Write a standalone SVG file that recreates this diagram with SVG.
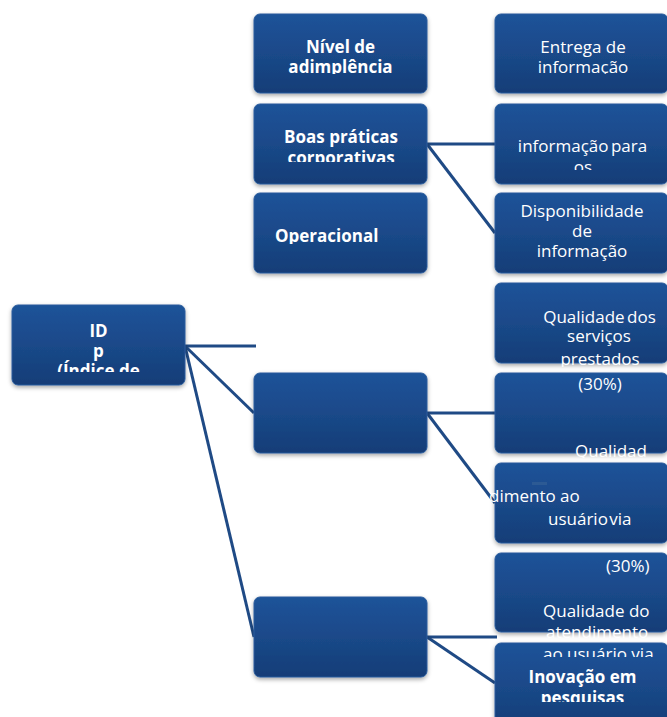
<svg xmlns="http://www.w3.org/2000/svg" width="667" height="717" viewBox="0 0 667 717">
<style>
.box{fill:url(#g);stroke:#2a5b9c;stroke-width:1;filter:url(#sh)}
.t{font-family:"Open Sans","Liberation Sans",sans-serif;font-size:17px;fill:#ffffff}
.b{font-weight:bold}
.c{text-anchor:middle}
.ln{stroke:#1f4a85;stroke-width:3;fill:none}
</style>
<defs>
<linearGradient id="g" x1="0" y1="0" x2="0" y2="1">
<stop offset="0" stop-color="#1f5399"/>
<stop offset="0.5" stop-color="#1a4989"/>
<stop offset="1" stop-color="#143d77"/>
</linearGradient>
<filter id="sh" x="-10%" y="-10%" width="120%" height="130%">
<feDropShadow dx="0" dy="2" stdDeviation="2" flood-color="#000" flood-opacity="0.35"/>
</filter>
<clipPath id="c1"><rect x="0" y="0" width="667" height="74"/></clipPath>
<clipPath id="c2"><rect x="0" y="0" width="667" height="162"/></clipPath>
<clipPath id="c3"><rect x="0" y="0" width="667" height="244"/></clipPath>
<clipPath id="c4"><rect x="0" y="0" width="667" height="372"/></clipPath>
<clipPath id="c5"><rect x="0" y="0" width="667" height="170"/></clipPath>
<clipPath id="c6"><rect x="0" y="0" width="667" height="367"/></clipPath>
<clipPath id="c7"><rect x="0" y="0" width="667" height="458"/></clipPath>
<clipPath id="c8"><rect x="0" y="0" width="667" height="638"/></clipPath>
<clipPath id="c9"><rect x="0" y="643" width="667" height="14"/></clipPath>
<clipPath id="c10"><rect x="0" y="0" width="667" height="702"/></clipPath>
</defs>
<g id="connectors">
<line class="ln" x1="185" y1="346" x2="256" y2="346"/>
<line class="ln" x1="185" y1="346" x2="254" y2="413"/>
<line class="ln" x1="185" y1="346" x2="254" y2="637"/>
<line class="ln" x1="427" y1="144" x2="495" y2="144"/>
<line class="ln" x1="427" y1="144" x2="495" y2="233"/>
<line class="ln" x1="427" y1="413" x2="495" y2="413"/>
<line class="ln" x1="427" y1="413" x2="495" y2="503"/>
<line class="ln" x1="427" y1="637" x2="497" y2="637"/>
<line class="ln" x1="427" y1="637" x2="495" y2="683"/>
</g>
<g id="n_id">
<rect class="box" x="12" y="305" width="173" height="80" rx="6"/>
<g clip-path="url(#c4)">
<text class="t b c" x="98.5" y="337">ID</text>
<text class="t b c" x="98.5" y="357">p</text>
<text class="t b c" x="98.5" y="377">(Índice de</text>
</g>
</g>
<g id="n_nivel">
<rect class="box" x="254" y="14" width="173" height="79" rx="6"/>
<g clip-path="url(#c1)">
<text class="t b c" x="340.5" y="53">Nível de</text>
<text class="t b c" x="340.5" y="73">adimplência</text>
</g>
</g>
<g id="n_boas">
<rect class="box" x="254" y="104" width="173" height="80" rx="6"/>
<g clip-path="url(#c2)">
<text class="t b c" x="341" y="143">Boas práticas</text>
<text class="t b c" x="341" y="164">corporativas</text>
</g>
</g>
<g id="n_oper">
<rect class="box" x="254" y="193" width="173" height="80" rx="6"/>
<g clip-path="url(#c3)">
<text class="t b" x="275" y="242">Operacional</text>
</g>
</g>
<g id="n_mid1">
<rect class="box" x="254" y="373" width="173" height="80" rx="6"/>
</g>
<g id="n_mid2">
<rect class="box" x="254" y="597" width="173" height="80" rx="6"/>
</g>
<g id="n_entrega">
<rect class="box" x="495" y="14" width="173" height="79" rx="6"/>
<g clip-path="url(#c1)">
<text class="t c" x="583" y="53">Entrega de</text>
<text class="t c" x="583" y="73">informação</text>
</g>
</g>
<g id="n_infopara">
<rect class="box" x="495" y="104" width="173" height="80" rx="6"/>
<g clip-path="url(#c5)">
<text class="t c" x="582.5" y="152" word-spacing="-2">informação para</text>
<text class="t c" x="583" y="173">os</text>
</g>
</g>
<g id="n_disp">
<rect class="box" x="495" y="193" width="173" height="80" rx="6"/>
<text class="t c" x="582" y="217">Disponibilidade</text>
<text class="t c" x="582" y="237">de</text>
<text class="t c" x="582" y="257">informação</text>
</g>
<g id="n_qualserv">
<rect class="box" x="495" y="283" width="173" height="80" rx="6"/>
<g clip-path="url(#c6)">
<text class="t c" x="599.5" y="323" word-spacing="-2">Qualidade dos</text>
<text class="t c" x="599" y="342">serviços</text>
<text class="t c" x="600" y="365">prestados</text>
</g>
</g>
<g id="n_q30a">
<rect class="box" x="495" y="373" width="173" height="80" rx="6"/>
<text class="t c" x="600" y="390">(30%)</text>
<g clip-path="url(#c7)">
<text class="t" x="575" y="457">Qualidad</text>
</g>
</g>
<g id="n_atend">
<rect class="box" x="495" y="463" width="173" height="80" rx="6"/>
<rect x="532" y="482" width="15" height="3" fill="#2c5a94"/>
<text class="t" x="489" y="502">dimento ao</text>
<text class="t" x="548" y="525" word-spacing="-3">usuário via</text>
</g>
<g id="n_q30b">
<rect class="box" x="495" y="553" width="173" height="79" rx="6"/>
<text class="t" x="606" y="572">(30%)</text>
<text class="t" x="543" y="617">Qualidade do</text>
<g clip-path="url(#c8)">
<text class="t" x="546" y="638">atendimento</text>
</g>
</g>
<g id="n_inov">
<rect class="box" x="495" y="643" width="173" height="85" rx="6"/>
<g clip-path="url(#c9)">
<text class="t" x="543" y="660">ao usuário via</text>
</g>
<g clip-path="url(#c10)">
<text class="t b c" x="582.5" y="683">Inovação em</text>
<text class="t b c" x="582.5" y="704">pesquisas</text>
</g>
</g>
</svg>
